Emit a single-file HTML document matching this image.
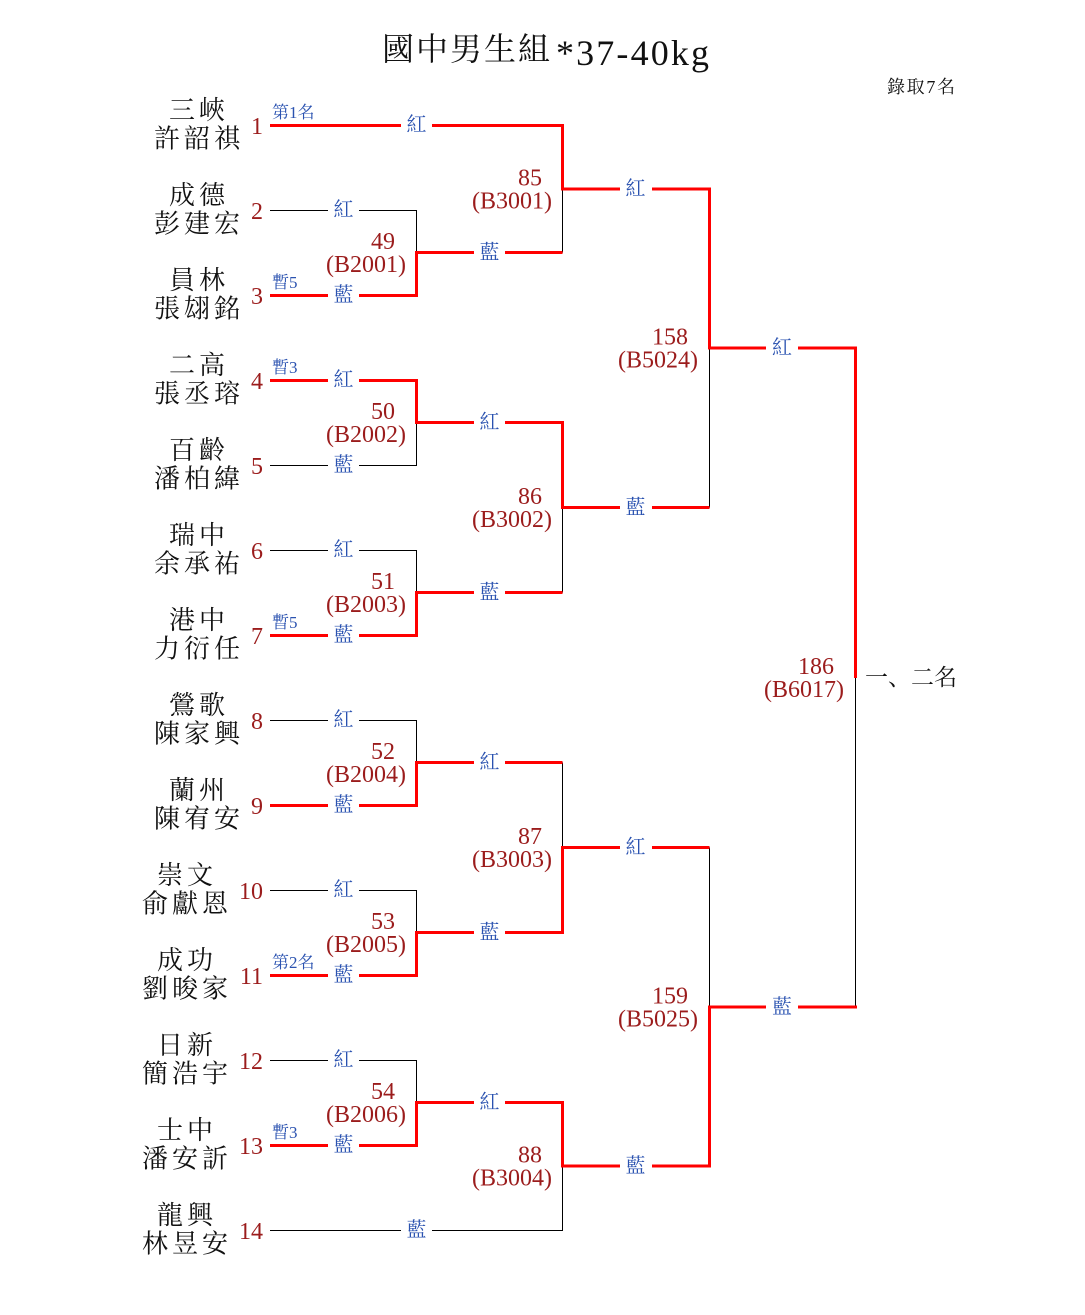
<!DOCTYPE html>
<html>
<head>
<meta charset="utf-8">
<style>
html,body{margin:0;padding:0;background:#fff;}
svg{display:block;}
.nm{font-family:"Liberation Serif","Noto Serif CJK SC","Noto Sans CJK TC",serif;font-size:26px;fill:#111;letter-spacing:4px;text-anchor:middle;}
.sd{font-family:"Liberation Serif",serif;font-size:24px;fill:#9b1c1c;text-anchor:end;}
.mn{font-family:"Liberation Serif",serif;font-size:24px;fill:#9b1c1c;text-anchor:end;}
.lb{font-family:"Liberation Serif","Noto Serif CJK SC","Noto Sans CJK TC",serif;font-size:20px;fill:#2a52b0;text-anchor:middle;}
.sm{font-family:"Liberation Serif","Noto Serif CJK SC","Noto Sans CJK TC",serif;font-size:17px;fill:#2a52b0;}
.t1{font-family:"Noto Serif CJK SC","Noto Sans CJK TC",serif;font-size:32px;fill:#111;letter-spacing:2px;}
.t2{font-family:"Liberation Serif",serif;font-size:36px;fill:#111;}
.t3{font-family:"Liberation Serif","Noto Serif CJK SC","Noto Sans CJK TC",serif;font-size:18px;fill:#111;}
.t4{font-family:"Noto Serif CJK SC","Noto Sans CJK TC",serif;font-size:23px;fill:#111;}
</style>
</head>
<body>
<svg width="1085" height="1315" viewBox="0 0 1085 1315" xmlns="http://www.w3.org/2000/svg">
<rect width="1085" height="1315" fill="#fff"/>
<!-- title -->
<text class="t1" x="382" y="60">國中男生組</text>
<text class="t2" x="556" y="65" textLength="153" lengthAdjust="spacing">*37-40kg</text>
<text class="t3" x="887" y="93" textLength="68" lengthAdjust="spacing">錄取7名</text>

<!-- black lines -->
<g fill="none" stroke="#000" stroke-width="1">
<path d="M270 210.5 H416.5 V252.5"/>
<path d="M270 465.5 H416.5 V422.5"/>
<path d="M270 550.5 H416.5 V592.5"/>
<path d="M270 720.5 H416.5 V762.5"/>
<path d="M270 890.5 H416.5 V932.5"/>
<path d="M270 1060.5 H416.5 V1102.5"/>
<path d="M270 1230.5 H562.5 V1166"/>
<path d="M562.5 189 V252.5"/>
<path d="M562.5 507.5 V592.5"/>
<path d="M562.5 762.5 V847.5"/>
<path d="M709.5 348 V507.5"/>
<path d="M709.5 847.5 V1007"/>
<path d="M855.5 677.5 V1007"/>
</g>
<!-- red lines -->
<g fill="none" stroke="#ff0000" stroke-width="3" stroke-linejoin="miter">
<path d="M270 125.5 H562.5 V189 H709.5 V348 H855.5 V678"/>
<path d="M270 295.5 H416.5 V252.5 H562.5"/>
<path d="M270 380.5 H416.5 V422.5 H562.5 V507.5 H709.5"/>
<path d="M270 635.5 H416.5 V592.5 H562.5"/>
<path d="M270 805.5 H416.5 V762.5 H562.5"/>
<path d="M270 975.5 H416.5 V932.5 H562.5 V847.5 H709.5"/>
<path d="M270 1145.5 H416.5 V1102.5 H562.5 V1166 H709.5 V1007 H857"/>
</g>

<!-- label gaps -->
<g fill="#fff">
<rect x="401" y="117" width="31" height="17"/>
<rect x="328" y="202" width="31" height="17"/>
<rect x="328" y="287" width="31" height="17"/>
<rect x="328" y="372" width="31" height="17"/>
<rect x="328" y="457" width="31" height="17"/>
<rect x="328" y="542" width="31" height="17"/>
<rect x="328" y="627" width="31" height="17"/>
<rect x="328" y="712" width="31" height="17"/>
<rect x="328" y="797" width="31" height="17"/>
<rect x="328" y="882" width="31" height="17"/>
<rect x="328" y="967" width="31" height="17"/>
<rect x="328" y="1052" width="31" height="17"/>
<rect x="328" y="1137" width="31" height="17"/>
<rect x="401" y="1222" width="31" height="17"/>
<rect x="474" y="244" width="31" height="17"/>
<rect x="474" y="414" width="31" height="17"/>
<rect x="474" y="584" width="31" height="17"/>
<rect x="474" y="754" width="31" height="17"/>
<rect x="474" y="924" width="31" height="17"/>
<rect x="474" y="1094" width="31" height="17"/>
<rect x="620" y="180" width="32" height="17"/>
<rect x="620" y="499" width="32" height="17"/>
<rect x="620" y="839" width="32" height="17"/>
<rect x="620" y="1158" width="32" height="17"/>
<rect x="766" y="340" width="32" height="17"/>
<rect x="766" y="999" width="32" height="17"/>
</g>

<!-- blue labels -->
<g class="lb">
<text x="416.5" y="131">紅</text>
<text x="343.5" y="216">紅</text>
<text x="343.5" y="301">藍</text>
<text x="343.5" y="386">紅</text>
<text x="343.5" y="471">藍</text>
<text x="343.5" y="556">紅</text>
<text x="343.5" y="641">藍</text>
<text x="343.5" y="726">紅</text>
<text x="343.5" y="811">藍</text>
<text x="343.5" y="896">紅</text>
<text x="343.5" y="981">藍</text>
<text x="343.5" y="1066">紅</text>
<text x="343.5" y="1151">藍</text>
<text x="416.5" y="1236">藍</text>
<text x="489.5" y="258.5">藍</text>
<text x="489.5" y="428.5">紅</text>
<text x="489.5" y="598.5">藍</text>
<text x="489.5" y="768.5">紅</text>
<text x="489.5" y="938.5">藍</text>
<text x="489.5" y="1108.5">紅</text>
<text x="635.5" y="195">紅</text>
<text x="635.5" y="513.5">藍</text>
<text x="635.5" y="853.5">紅</text>
<text x="635.5" y="1172">藍</text>
<text x="782" y="354">紅</text>
<text x="782" y="1013">藍</text>
</g>

<!-- small placement labels -->
<g class="sm">
<text x="272" y="118">第1名</text>
<text x="272" y="288">暫5</text>
<text x="272" y="373">暫3</text>
<text x="272" y="628">暫5</text>
<text x="272" y="968">第2名</text>
<text x="272" y="1138">暫3</text>
</g>

<!-- seeds -->
<g class="sd">
<text x="263" y="134">1</text>
<text x="263" y="219">2</text>
<text x="263" y="304">3</text>
<text x="263" y="389">4</text>
<text x="263" y="474">5</text>
<text x="263" y="559">6</text>
<text x="263" y="644">7</text>
<text x="263" y="729">8</text>
<text x="263" y="814">9</text>
<text x="263" y="899">10</text>
<text x="263" y="984">11</text>
<text x="263" y="1069">12</text>
<text x="263" y="1154">13</text>
<text x="263" y="1239">14</text>
</g>

<!-- names -->
<g class="nm">
<text x="199" y="119">三峽</text><text x="199" y="147.5">許韶祺</text>
<text x="199" y="204">成德</text><text x="199" y="232.5">彭建宏</text>
<text x="199" y="289">員林</text><text x="199" y="317.5">張翃銘</text>
<text x="199" y="374">二高</text><text x="199" y="402.5">張丞瑢</text>
<text x="199" y="459">百齡</text><text x="199" y="487.5">潘柏緯</text>
<text x="199" y="544">瑞中</text><text x="199" y="572.5">余承祐</text>
<text x="199" y="629">港中</text><text x="199" y="657.5">力衍任</text>
<text x="199" y="714">鶯歌</text><text x="199" y="742.5">陳家興</text>
<text x="199" y="799">蘭州</text><text x="199" y="827.5">陳宥安</text>
<text x="187" y="884">崇文</text><text x="187" y="912.5">俞獻恩</text>
<text x="187" y="969">成功</text><text x="187" y="997.5">劉晙家</text>
<text x="187" y="1054">日新</text><text x="187" y="1082.5">簡浩宇</text>
<text x="187" y="1139">士中</text><text x="187" y="1167.5">潘安訢</text>
<text x="187" y="1224">龍興</text><text x="187" y="1252.5">林昱安</text>
</g>

<!-- match numbers -->
<g class="mn">
<text x="395" y="249">49</text><text x="406" y="272">(B2001)</text>
<text x="395" y="419">50</text><text x="406" y="442">(B2002)</text>
<text x="395" y="589">51</text><text x="406" y="612">(B2003)</text>
<text x="395" y="759">52</text><text x="406" y="782">(B2004)</text>
<text x="395" y="929">53</text><text x="406" y="952">(B2005)</text>
<text x="395" y="1099">54</text><text x="406" y="1122">(B2006)</text>
<text x="542" y="185.5">85</text><text x="552" y="208.5">(B3001)</text>
<text x="542" y="504">86</text><text x="552" y="527">(B3002)</text>
<text x="542" y="844">87</text><text x="552" y="867">(B3003)</text>
<text x="542" y="1162.5">88</text><text x="552" y="1185.5">(B3004)</text>
<text x="688" y="344.5">158</text><text x="698" y="367.5">(B5024)</text>
<text x="688" y="1003.5">159</text><text x="698" y="1026.5">(B5025)</text>
<text x="834" y="674">186</text><text x="844" y="697">(B6017)</text>
</g>

<text class="t4" x="865" y="685" textLength="92" lengthAdjust="spacing">一、二名</text>
</svg>
</body>
</html>
